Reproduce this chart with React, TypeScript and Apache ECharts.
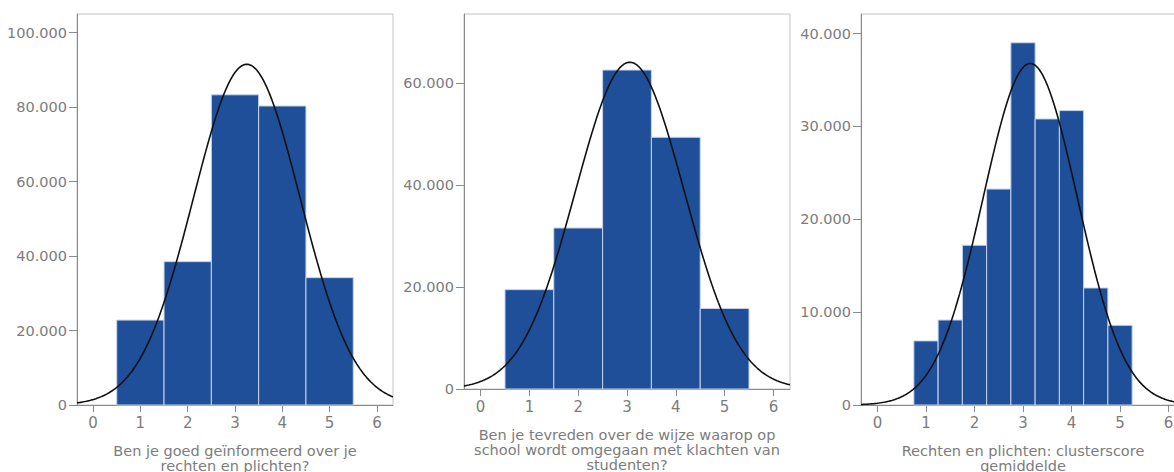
import React, { useEffect, useRef } from "react";
import * as echarts from "echarts";

// Panel 1
const bins1 = [1, 2, 3, 4, 5];
const counts1 = [22800, 38500, 83300, 80300, 34200];
const binWidth1 = 1;
const name1 = "Ben je goed geïnformeerd over je\nrechten en plichten?";
const yTicks1 = [0, 20000, 40000, 60000, 80000, 100000];
const yMax1 = 105000;

// Panel 2
const bins2 = [1, 2, 3, 4, 5];
const counts2 = [19500, 31600, 62600, 49400, 15800];
const binWidth2 = 1;
const name2 = "Ben je tevreden over de wijze waarop op\nschool wordt omgegaan met klachten van\nstudenten?";
const yTicks2 = [0, 20000, 40000, 60000];
const yMax2 = 73600;

// Panel 3
const bins3 = [1, 1.5, 2, 2.5, 3, 3.5, 4, 4.5, 5];
const counts3 = [6900, 9150, 17200, 23250, 39000, 30800, 31700, 12600, 8580];
const binWidth3 = 0.5;
const name3 = "Rechten en plichten: clusterscore\ngemiddelde";
const yTicks3 = [0, 10000, 20000, 30000, 40000];
const yMax3 = 42100;

const xTicks = [0, 1, 2, 3, 4, 5, 6];
const xMin = -0.34;
const xMax = 6.34;

const BAR_FILL = "#1f4f99";
const BAR_STROKE = "#c6d3ea";
const TEXT = "#7c7c7c";
const FONT = "DejaVu Sans";

function fitCurve(bins: number[], counts: number[], w: number) {
  const n = counts.reduce((a, b) => a + b, 0);
  const mean = bins.reduce((s, b, i) => s + b * counts[i], 0) / n;
  const ex2 = bins.reduce((s, b, i) => s + b * b * counts[i], 0) / n;
  const sd = Math.sqrt(ex2 - mean * mean);
  const pts: number[][] = [];
  const steps = 200;
  for (let i = 0; i <= steps; i++) {
    const x = xMin + ((xMax - xMin) * i) / steps;
    const y = ((n * w) / (sd * Math.sqrt(2 * Math.PI))) * Math.exp(-((x - mean) ** 2) / (2 * sd * sd));
    pts.push([x, y]);
  }
  return pts;
}

const fmt = (v: number) => {
  if (v === 0) return "0";
  const s = Math.round(v).toString();
  return s.replace(/\B(?=(\d{3})+(?!\d))/g, ".");
};

export default function App() {
  const ref = useRef<HTMLDivElement>(null);
  useEffect(() => {
    if (!ref.current) return;
    const chart = echarts.init(ref.current, undefined, { renderer: "svg" });
    const grids = [
      { left: 77, top: 14, width: 316, height: 391 },
      { left: 464, top: 14, width: 326, height: 375 },
      { left: 861, top: 14, width: 324, height: 391 },
    ];
    const panels = [
      { bins: bins1, counts: counts1, w: binWidth1, name: name1, yTicks: yTicks1, yMax: yMax1, gap: 38 },
      { bins: bins2, counts: counts2, w: binWidth2, name: name2, yTicks: yTicks2, yMax: yMax2, gap: 38 },
      { bins: bins3, counts: counts3, w: binWidth3, name: name3, yTicks: yTicks3, yMax: yMax3, gap: 38 },
    ];
    const xAxis = panels.map((p, i) => ({
      type: "value",
      gridIndex: i,
      min: xMin,
      max: xMax,
      name: p.name,
      nameLocation: "middle",
      nameGap: p.gap,
      nameTextStyle: { color: TEXT, fontFamily: FONT, fontSize: 14.5, lineHeight: 15, verticalAlign: "top" },
      axisLine: { onZero: false, lineStyle: { color: "#8a8a8a", width: 1 } },
      axisTick: { show: true, length: 7, customValues: xTicks, lineStyle: { color: "#8a8a8a" } },
      axisLabel: { customValues: xTicks, color: TEXT, fontFamily: FONT, fontSize: 15, margin: 10 },
      splitLine: { show: false },
    }));
    const yAxis = panels.map((p, i) => ({
      type: "value",
      gridIndex: i,
      min: 0,
      max: p.yMax,
      axisLine: { show: true, onZero: false, lineStyle: { color: "#8a8a8a", width: 1 } },
      axisTick: { show: true, length: 8, customValues: p.yTicks, lineStyle: { color: "#8a8a8a" } },
      axisLabel: { customValues: p.yTicks, color: TEXT, fontFamily: FONT, fontSize: 14.5, margin: 10, formatter: fmt },
      splitLine: { show: false },
    }));
    const series: any[] = [];
    panels.forEach((p, i) => {
      series.push({
        type: "custom",
        xAxisIndex: i,
        yAxisIndex: i,
        data: p.bins.map((b, j) => [b - p.w / 2, b + p.w / 2, p.counts[j]]),
        encode: { x: [0, 1], y: 2 },
        renderItem: (params: any, api: any) => {
          const p0 = api.coord([api.value(0), api.value(2)]);
          const p1 = api.coord([api.value(1), 0]);
          return {
            type: "rect",
            shape: { x: p0[0], y: p0[1], width: p1[0] - p0[0], height: p1[1] - p0[1] },
            style: { fill: BAR_FILL, stroke: BAR_STROKE, lineWidth: 1 },
          };
        },
        z: 2,
      });
      series.push({
        type: "line",
        xAxisIndex: i,
        yAxisIndex: i,
        data: fitCurve(p.bins, p.counts, p.w),
        showSymbol: false,
        symbol: "none",
        lineStyle: { color: "#111111", width: 1.6 },
        clip: true,
        z: 3,
      });
    });
    chart.setOption({
      animation: false,
      backgroundColor: "#ffffff",
      grid: grids.map((g) => ({
        ...g,
        show: true,
        borderColor: "#c4c4c4",
        borderWidth: 1,
        backgroundColor: "transparent",
        containLabel: false,
        outerBoundsMode: "none",
      })),
      xAxis,
      yAxis,
      series,
    });
    return () => chart.dispose();
  }, []);
  return (
    <div
      ref={ref}
      style={{ position: "absolute", left: 0, top: 0, width: 1174, height: 472, overflow: "hidden" }}
    />
  );
}
